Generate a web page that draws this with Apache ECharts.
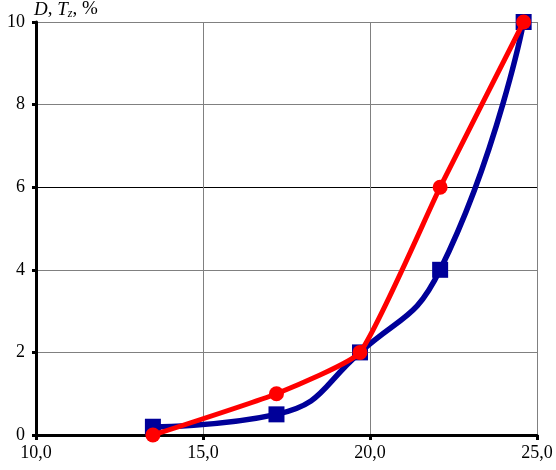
<!DOCTYPE html>
<html>
<head>
<meta charset="utf-8">
<script src="https://cdn.jsdelivr.net/npm/echarts@6/dist/echarts.min.js"></script>
<style>
  html, body { margin: 0; padding: 0; background: #fff; }
  #chart { width: 556px; height: 470px; }
</style>
</head>
<body>
<div id="chart"></div>
<script>
var xValues = [13.5, 17.2, 19.7, 22.1, 24.6];
var dValues = [0.2, 0.5, 2, 4, 10];     // blue, squares
var tzValues = [0, 1, 2, 6, 10];        // red, circles
var xTicks = [10, 15, 20, 25];
var yTicks = [0, 2, 4, 6, 8, 10];

function pairs(xs, ys) {
  var out = [];
  for (var i = 0; i < xs.length; i++) { out.push([xs[i], ys[i]]); }
  return out;
}

var font = "'Liberation Serif', 'DejaVu Serif', serif";
var chart = echarts.init(document.getElementById("chart"));

chart.setOption({
  animation: false,
  backgroundColor: "#fff",
  grid: { left: 36, right: 19, top: 22, bottom: 35, containLabel: false },
  graphic: [{
    type: "text",
    left: 34,
    top: 0,
    style: {
      text: "{i|D}{n|, }{i|T}{s|z}{n|, %}",
      rich: {
        i: { fontFamily: font, fontSize: 19, fontStyle: "italic", fill: "#000" },
        n: { fontFamily: font, fontSize: 19, fill: "#000" },
        s: { fontFamily: font, fontSize: 12, fontStyle: "italic", fill: "#000", padding: [9, 0, 0, 0] }
      }
    }
  }],
  xAxis: {
    type: "value",
    min: xTicks[0],
    max: xTicks[xTicks.length - 1],
    interval: 5,
    axisLine: { onZero: false, lineStyle: { color: "#000", width: 3 } },
    axisTick: { show: true, inside: false, length: 5, lineStyle: { color: "#000", width: 3 } },
    axisLabel: {
      color: "#000", fontFamily: font, fontSize: 18, margin: 9,
      formatter: function (v) { return v.toFixed(1).replace(".", ","); }
    },
    splitLine: { show: true, lineStyle: { color: "#808080", width: 1 } }
  },
  yAxis: {
    type: "value",
    min: yTicks[0],
    max: yTicks[yTicks.length - 1],
    interval: 2,
    axisLine: { show: true, onZero: false, lineStyle: { color: "#000", width: 3 } },
    axisTick: { show: true, inside: false, length: 4, lineStyle: { color: "#000", width: 3 } },
    axisLabel: { color: "#000", fontFamily: font, fontSize: 18, margin: 11 },
    splitLine: { show: true, lineStyle: { color: ["#000", "#808080", "#808080", "#000", "#808080", "#808080"], width: 1 } }
  },
  series: [
    {
      name: "D",
      type: "line",
      data: pairs(xValues, dValues),
      smooth: 0.5,
      symbol: "rect",
      symbolSize: 16,
      lineStyle: { color: "#000099", width: 5.5 },
      itemStyle: { color: "#000099" },
      z: 2
    },
    {
      name: "Tz",
      type: "line",
      data: pairs(xValues, tzValues),
      smooth: 0.15,
      symbol: "circle",
      symbolSize: 15,
      lineStyle: { color: "#ff0000", width: 5 },
      itemStyle: { color: "#ff0000" },
      z: 3
    }
  ]
});
</script>
</body>
</html>
